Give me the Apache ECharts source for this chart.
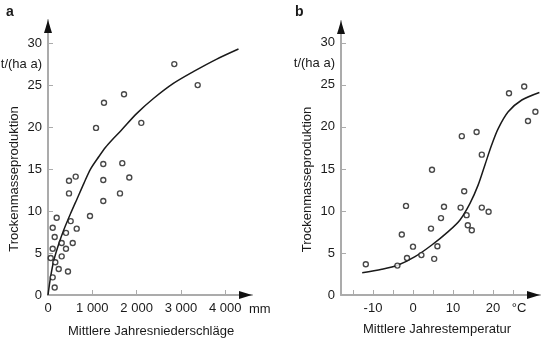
<!DOCTYPE html>
<html>
<head>
<meta charset="utf-8">
<script src="https://cdn.jsdelivr.net/npm/echarts@6/dist/echarts.min.js"></script>
<style>
  html, body { margin: 0; padding: 0; background: #fff; }
  #chart { width: 545px; height: 341px; }
</style>
</head>
<body>
<div id="chart"></div>
<script>
// a: Niederschlag (mm) gegen Trockenmasseproduktion t/(ha a)
var precipPoints = [
  [61, 4.4], [106, 2.1], [106, 5.5], [106, 8.0], [151, 0.9], [151, 6.9], [165, 3.9],
  [196, 9.2], [242, 3.1], [309, 4.6], [309, 6.2], [406, 5.5], [406, 7.4], [451, 2.8],
  [474, 12.1], [474, 13.6], [512, 8.8], [558, 6.2], [625, 14.1], [648, 7.9], [948, 9.4],
  [1084, 19.9], [1248, 11.2], [1248, 13.7], [1248, 15.6], [1264, 22.9], [1625, 12.1],
  [1677, 15.7], [1716, 23.9], [1835, 14.0], [2106, 20.5], [2851, 27.5], [3379, 25.0]
];
var precipCurve = [
  [0, 0], [60, 2.2], [135, 4.2], [250, 6.2], [360, 7.8], [510, 9.7], [660, 11.5],
  [810, 13.3], [960, 15.0], [1150, 16.5], [1300, 17.6], [1450, 18.5], [1650, 19.6],
  [2000, 21.6], [2380, 23.4], [2830, 25.2], [3280, 26.6], [3810, 28.1], [4300, 29.3]
];
// b: Jahrestemperatur (°C)
var tempPoints = [
  [-11.8, 3.65], [-3.9, 3.5], [-2.8, 7.2], [-1.75, 10.6], [-1.5, 4.4], [0, 5.75],
  [2.1, 4.75], [4.5, 7.9], [4.75, 14.9], [5.3, 4.3], [6.1, 5.8], [7, 9.15], [7.75, 10.5],
  [11.9, 10.4], [12.2, 18.9], [12.8, 12.35], [13.4, 9.5], [13.7, 8.3], [14.7, 7.7],
  [15.9, 19.4], [17.2, 16.7], [17.2, 10.4], [18.9, 9.9], [24, 24.0], [27.8, 24.8],
  [28.75, 20.7], [30.6, 21.8]
];
var tempCurve = [
  [-12.7, 2.65], [-7.8, 3.06], [-3.7, 3.57], [0.5, 4.56], [4.7, 5.95], [8.8, 7.54],
  [11.75, 8.93], [14.25, 10.9], [16.3, 13.1], [18, 15.5], [19.7, 17.9], [21.3, 19.8],
  [23.8, 21.8], [27.2, 23.2], [31.6, 24.1]
];

var yTicks = [0, 5, 10, 15, 20, 25, 30];
var yUnitAt = 27.5;           // Höhe der Einheit "t/(ha a)"
var precipTicks = [0, 1000, 2000, 3000, 4000];
var tempTicks = [-15, -10, -5, 0, 5, 10, 15, 20, 25];
var tempLabels = [-10, 0, 10, 20];
var tempUnitAt = 26.5;        // Position von "°C"

var font = '"Liberation Sans", Arial, sans-serif';
var grey = '#ababab';
var ink = '#1a1a1a';

function valueAxis(extra) {
  var base = {
    type: 'value',
    axisLine: { onZero: false, lineStyle: { color: grey, width: 2 } },
    axisTick: { inside: true, length: 5, lineStyle: { color: grey, width: 1 } },
    axisLabel: { color: ink, fontFamily: font, fontSize: 13 },
    splitLine: { show: false },
    nameMoveOverlap: false,
    nameTextStyle: { color: ink, fontFamily: font, fontSize: 13 }
  };
  return echarts.util.merge(base, extra, true);
}

// nur der schwarze Pfeil am Achsenende
function arrowAxis(extra) {
  var base = {
    type: 'value',
    axisLine: {
      show: true, onZero: false,
      symbol: ['none', 'triangle'], symbolSize: [8, 13], symbolOffset: [0, -6.5],
      lineStyle: { color: '#111', width: 0 }
    },
    axisTick: { show: false },
    axisLabel: { show: false },
    splitLine: { show: false }
  };
  return echarts.util.merge(base, extra, true);
}

var yName = {
  name: 'Trockenmasseproduktion',
  nameLocation: 'middle',
  nameGap: 27,
  nameTextStyle: { padding: [0, 43, 0, 0] }
};

var yLabels = yTicks.concat([yUnitAt]);
function yFormatter(v) {
  return v === yUnitAt ? 't/(ha a)' : String(v);
}

var chart = echarts.init(document.getElementById('chart'), null, { renderer: 'canvas' });

var option = {
  animation: false,
  backgroundColor: '#fff',
  title: [
    { text: 'a', left: 1, top: 0, textStyle: { fontFamily: font, fontSize: 14, fontWeight: 'bold', color: ink } },
    { text: 'b', left: 290, top: 0, textStyle: { fontFamily: font, fontSize: 14, fontWeight: 'bold', color: ink } }
  ],
  grid: [
    { left: 48, top: 20, width: 204, height: 275, containLabel: false, outerBoundsMode: 'none' },
    { left: 341, top: 21, width: 199, height: 274, containLabel: false, outerBoundsMode: 'none' }
  ],
  xAxis: [
    valueAxis({
      gridIndex: 0, position: 'bottom', min: 0, max: 4605,
      axisTick: { customValues: precipTicks },
      axisLabel: {
        customValues: precipTicks, margin: 7,
        formatter: function (v) { return v === 0 ? '0' : (v / 1000) + ' 000'; }
      },
      name: 'mm', nameLocation: 'end', nameGap: -3,
      nameTextStyle: { verticalAlign: 'top', padding: [8, 0, 0, 0] }
    }),
    valueAxis({
      gridIndex: 1, position: 'bottom', min: -18, max: 31.75,
      axisTick: { customValues: tempTicks },
      axisLabel: {
        customValues: tempLabels.concat([tempUnitAt]), margin: 7,
        formatter: function (v) { return v === tempUnitAt ? '°C' : String(v); }
      }
    }),
    arrowAxis({ gridIndex: 0, position: 'bottom', min: 0, max: 4605 }),
    arrowAxis({ gridIndex: 1, position: 'bottom', min: -18, max: 31.75 })
  ],
  yAxis: [
    valueAxis(echarts.util.merge({
      gridIndex: 0, position: 'left', min: 0, max: 32.75,
      axisTick: { customValues: yTicks },
      axisLabel: { customValues: yLabels, margin: 6, formatter: yFormatter }
    }, yName, true)),
    valueAxis(echarts.util.merge({
      gridIndex: 1, position: 'left', min: 0, max: 32.6,
      axisTick: { customValues: yTicks },
      axisLabel: { customValues: yLabels, margin: 6, formatter: yFormatter }
    }, yName, true)),
    arrowAxis({ gridIndex: 0, position: 'left', min: 0, max: 32.75 }),
    arrowAxis({ gridIndex: 1, position: 'left', min: 0, max: 32.6 })
  ],
  series: [
    {
      type: 'line', xAxisIndex: 0, yAxisIndex: 0, data: precipCurve,
      smooth: 0.3, showSymbol: false, lineStyle: { color: ink, width: 1.5 }, z: 3
    },
    {
      type: 'scatter', xAxisIndex: 0, yAxisIndex: 0, data: precipPoints,
      symbol: 'circle', symbolSize: 5,
      itemStyle: { color: '#fff', borderColor: ink, borderWidth: 1.4 }, z: 4
    },
    {
      type: 'line', xAxisIndex: 1, yAxisIndex: 1, data: tempCurve,
      smooth: 0.3, showSymbol: false, lineStyle: { color: ink, width: 1.5 }, z: 3
    },
    {
      type: 'scatter', xAxisIndex: 1, yAxisIndex: 1, data: tempPoints,
      symbol: 'circle', symbolSize: 5,
      itemStyle: { color: '#fff', borderColor: ink, borderWidth: 1.4 }, z: 4
    }
  ],
  // Titel unter den x-Achsen
  graphic: [
    {
      type: 'text', left: 68, top: 325,
      style: { text: 'Mittlere Jahresniederschläge', font: '13px ' + font, fill: ink }
    },
    {
      type: 'text', left: 363, top: 323,
      style: { text: 'Mittlere Jahrestemperatur', font: '13px ' + font, fill: ink }
    }
  ]
};

chart.setOption(option);

window.addEventListener('resize', function () { chart.resize(); });
</script>
</body>
</html>
